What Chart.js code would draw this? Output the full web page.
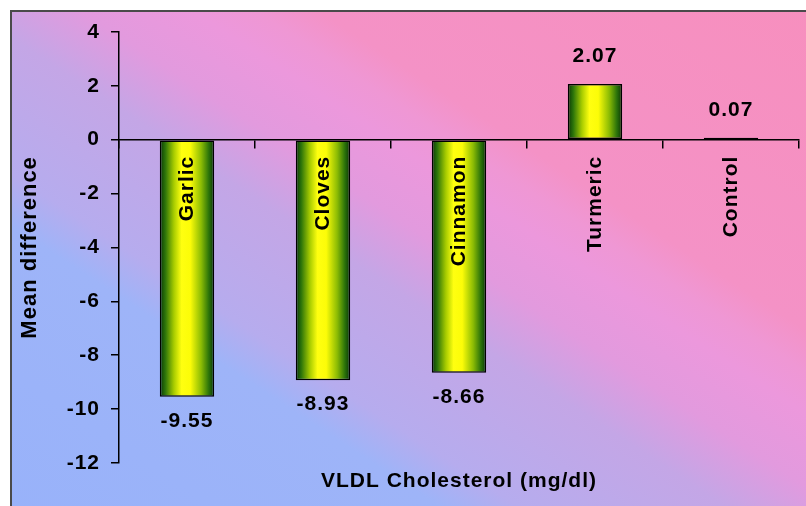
<!DOCTYPE html>
<html>
<head>
<meta charset="utf-8">
<title>VLDL Cholesterol</title>
<script src="https://cdn.jsdelivr.net/npm/chart.js@4.4.1/dist/chart.umd.min.js"></script>
<style>
  html, body { margin: 0; padding: 0; background: #fff; }
  canvas { display: block; }
</style>
</head>
<body>
<canvas id="chart" width="806" height="506"></canvas>
<script>
const categories = ["Garlic", "Cloves", "Cinnamon", "Turmeric", "Control"];
const meanDiff = [-9.55, -8.93, -8.66, 2.07, 0.07];
const yTicks = [-12, -10, -8, -6, -4, -2, 0, 2, 4];

const FONT = '"Liberation Sans", Arial, sans-serif';
const bold = (size) => ({ family: FONT, size: size, weight: "bold" });

// the old slide font is spaced out a little
function spacing(chart) { chart.ctx.letterSpacing = "1px"; }

// white margin + framed diagonal wash, blue bottom-left to pink top-right
const backdrop = {
  id: "backdrop",
  beforeUpdate: spacing,
  beforeLayout: spacing,
  beforeDraw(chart) {
    const { ctx, width, height } = chart;
    spacing(chart);
    ctx.save();
    ctx.fillStyle = "#fff";
    ctx.fillRect(0, 0, width, height);
    const g = ctx.createLinearGradient(-234, 357, 244, -372);
    g.addColorStop(0, "#98b2fa");
    g.addColorStop(0.28, "#9eb4f8");
    g.addColorStop(0.33, "#b6acee");
    g.addColorStop(0.46, "#c4a6e6");
    g.addColorStop(0.53, "#e29ade");
    g.addColorStop(0.6, "#ec98dc");
    g.addColorStop(0.64, "#ef97d4");
    g.addColorStop(0.68, "#f492c6");
    g.addColorStop(1, "#f78fbe");
    ctx.fillStyle = g;
    ctx.fillRect(11, 11, width - 11, height - 11);
    ctx.strokeStyle = "#4a4a4a";
    ctx.lineWidth = 2;
    ctx.beginPath();
    ctx.moveTo(11, height);
    ctx.lineTo(11, 11);
    ctx.lineTo(width, 11);
    ctx.stroke();
    ctx.restore();
  }
};

// numbers at the end of each bar
const valueLabels = {
  id: "valueLabels",
  afterDatasetsDraw(chart) {
    const { ctx } = chart;
    const meta = chart.getDatasetMeta(0);
    ctx.save();
    ctx.font = "bold 21px " + FONT;
    ctx.fillStyle = "#000";
    ctx.textAlign = "center";
    ctx.textBaseline = "middle";
    meta.data.forEach((bar, i) => {
      const v = meanDiff[i];
      const y = v < 0 ? bar.y + 24 : bar.y - 28;
      ctx.fillText(v.toFixed(2), bar.x, y);
    });
    ctx.restore();
  }
};

// cylinder look: dark green edges, wide yellow middle
function barFill(c) {
  const chart = c.chart;
  const xs = chart.scales.x;
  if (c.dataIndex === undefined || !xs || !chart.chartArea) return "#e0f000";
  const cx = xs.getPixelForValue(c.dataIndex);
  const w = (xs.width / categories.length) * 0.4;
  const g = chart.ctx.createLinearGradient(cx - w / 2, 0, cx + w / 2, 0);
  g.addColorStop(0, "#093605");
  g.addColorStop(0.1, "#2c740a");
  g.addColorStop(0.26, "#a8cc00");
  g.addColorStop(0.4, "#ffff10");
  g.addColorStop(0.56, "#fcfc08");
  g.addColorStop(0.76, "#8cbc04");
  g.addColorStop(0.9, "#2c740a");
  g.addColorStop(1, "#093605");
  return g;
}

new Chart(document.getElementById("chart"), {
  type: "bar",
  data: {
    labels: categories,
    datasets: [{
      data: meanDiff,
      backgroundColor: barFill,
      borderColor: "#000",
      borderWidth: 1.5,
      borderSkipped: false,
      barPercentage: 0.4,
      categoryPercentage: 1
    }]
  },
  options: {
    responsive: false,
    animation: false,
    layout: { padding: { top: 32, right: 7, left: 0, bottom: 0 } },
    plugins: {
      legend: { display: false },
      tooltip: { enabled: false },
      title: {
        display: true,
        position: "bottom",
        fullSize: false,
        text: "VLDL Cholesterol (mg/dl)",
        color: "#000",
        font: bold(21),
        padding: { top: 6, bottom: 12 }
      }
    },
    scales: {
      x: {
        position: { y: 0 },
        grid: { drawOnChartArea: false, drawTicks: true, tickLength: 8, color: "#000", lineWidth: 1.5, offset: true },
        border: { color: "#000", width: 1.5, z: 1 },
        // names sit on top of the bars
        ticks: { z: 1, minRotation: 90, maxRotation: 90, autoSkip: false, padding: 8, color: "#000", font: bold(21) },
        afterFit(s) { s.paddingLeft = 0; s.paddingRight = 0; }
      },
      y: {
        min: -12,
        max: 4,
        afterBuildTicks(s) { s.ticks = yTicks.map(v => ({ value: v })); },
        grid: { drawOnChartArea: false, drawTicks: true, tickLength: 8, color: "#000", lineWidth: 1.5 },
        border: { color: "#000", width: 1.5 },
        ticks: { padding: 11, color: "#000", font: bold(21) },
        title: {
          display: true,
          text: "Mean difference",
          color: "#000",
          font: bold(22),
          padding: { top: 17, bottom: 0 }
        },
        afterFit(s) { s.width = 119; }
      }
    }
  },
  plugins: [backdrop, valueLabels]
});
</script>
</body>
</html>
